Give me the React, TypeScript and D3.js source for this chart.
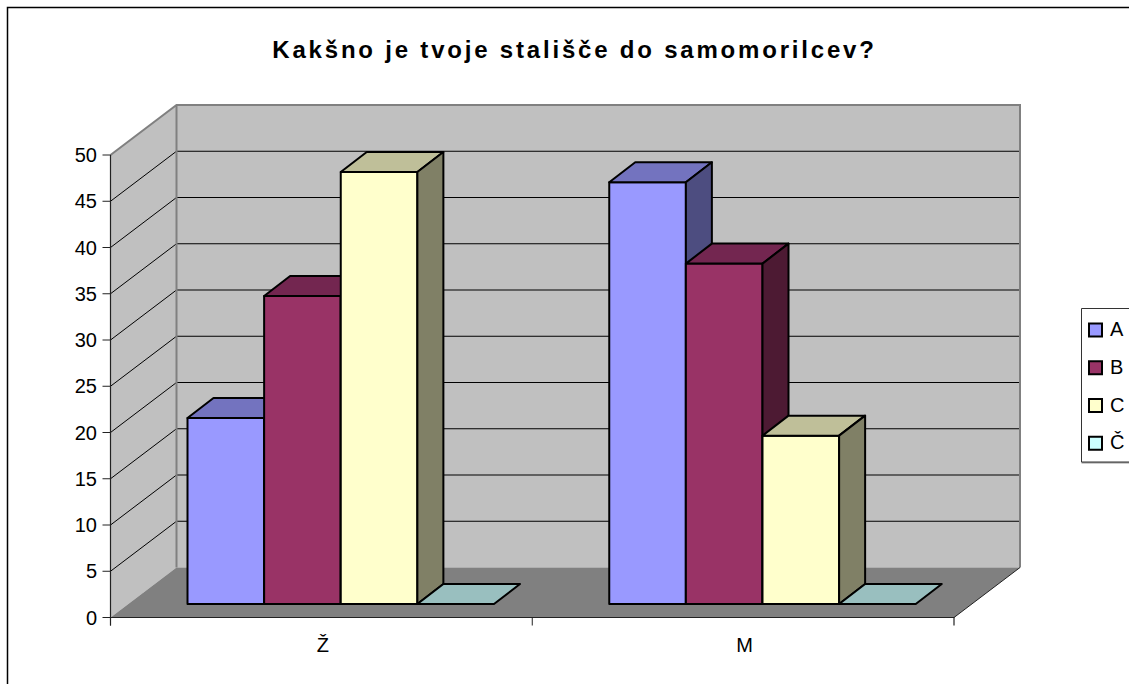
import React from "react";
import * as d3 from "d3";

const categories = ["Ž", "M"];
const seriesNames = ["A", "B", "C", "Č"];
const valuesA = [20.1, 45.6];
const valuesB = [33.3, 36.8];
const valuesC = [46.7, 18.2];
const valuesCh = [0, 0];
const yTicks = [0, 5, 10, 15, 20, 25, 30, 35, 40, 45, 50];

const seriesValues = [valuesA, valuesB, valuesC, valuesCh];
const frontColors = ["#9999FF", "#993366", "#FFFFCC", "#CCFFFF"];
const topColors = ["#7373BF", "#732650", "#BFBF99", "#99BFBF"];
const sideColors = ["#4D4D80", "#4D1A33", "#808066", "#668080"];

// wall depth and bar depth of the fake 3d projection
const depthX = 66;
const depthY = 50;
const barDepthX = 26;
const barDepthY = 20;
const barInsetY = 13.5;

const y = d3.scaleLinear().domain([0, 50]).range([617.5, 155]);
const x0 = d3.scaleBand().domain(categories).range([110.5, 954]);
const x1 = d3.scaleBand().domain(seriesNames).range([77, 383.5]);

const poly = (pts: number[][]) => d3.line()(pts as [number, number][]) + "Z";

export default function App() {
  const left = 110.5;
  const right = 954;
  const bottom = y(0);
  const top = y(50);

  return (
    <svg
      width={1129}
      height={684}
      style={{ position: "absolute", left: 0, top: 0, fontFamily: "Liberation Sans" }}
    >
      <rect width={1129} height={684} fill="#fff" />
      <path d="M7.5,684V7.5H1129" fill="none" stroke="#000" strokeWidth={1.5} />

      <text
        x={574.5}
        y={58}
        textAnchor="middle"
        fontSize={24}
        fontWeight="bold"
        letterSpacing={2.8}
      >
        Kakšno je tvoje stališče do samomorilcev?
      </text>

      {/* walls */}
      <path
        d={poly([[left, bottom], [left, top], [left + depthX, top - depthY], [left + depthX, bottom - depthY]])}
        fill="#C0C0C0"
      />
      <rect x={left + depthX} y={top - depthY} width={right - left} height={bottom - top} fill="#C0C0C0" />
      <path
        d={poly([[left, bottom], [left + depthX, bottom - depthY], [right + depthX, bottom - depthY], [right, bottom]])}
        fill="#808080"
      />

      {yTicks.slice(1, -1).map((t) => (
        <path
          key={t}
          d={`M${left},${y(t)}L${left + depthX},${y(t) - depthY}H${right + depthX}`}
          fill="none"
          stroke="#000"
          strokeWidth={1}
        />
      ))}
      <path
        d={`M${left},${top}L${left + depthX},${top - depthY}H${right + depthX}V${bottom - depthY}M${left + depthX},${top - depthY}V${bottom - depthY}`}
        fill="none"
        stroke="#808080"
        strokeWidth={2}
      />
      <path
        d={`M${right},${bottom}L${right + depthX},${bottom - depthY}`}
        fill="none"
        stroke="#222"
        strokeWidth={1}
      />

      {/* bars */}
      {categories.map((cat, c) =>
        seriesNames.map((name, s) => {
          const xa = x0(cat)! + x1(name)!;
          const xb = xa + x1.bandwidth();
          const yb = bottom - barInsetY;
          const yt = y(seriesValues[s][c]) - barInsetY;
          return (
            <g key={cat + name} stroke="#000" strokeWidth={2} strokeLinejoin="round">
              {yb - yt > 0 && <rect x={xa} y={yt} width={xb - xa} height={yb - yt} fill={frontColors[s]} />}
              <path
                d={poly([[xa, yt], [xa + barDepthX, yt - barDepthY], [xb + barDepthX, yt - barDepthY], [xb, yt]])}
                fill={topColors[s]}
              />
              {yb - yt > 0 && (
                <path
                  d={poly([[xb, yt], [xb + barDepthX, yt - barDepthY], [xb + barDepthX, yb - barDepthY], [xb, yb]])}
                  fill={sideColors[s]}
                />
              )}
            </g>
          );
        })
      )}

      {/* axes */}
      <path d={`M${left},${top}V${bottom + 8}M${left},${bottom}H${right}V${bottom + 8}`} fill="none" stroke="#222" strokeWidth={1.2} />
      {yTicks.map((t) => (
        <g key={t}>
          <line x1={left - 8} x2={left} y1={y(t)} y2={y(t)} stroke="#222" strokeWidth={1} />
          <text x={97} y={y(t) + 7} textAnchor="end" fontSize={20}>
            {t}
          </text>
        </g>
      ))}
      {categories.map((cat) => (
        <g key={cat}>
          <line x1={x0(cat)!} x2={x0(cat)!} y1={bottom} y2={bottom + 8} stroke="#222" strokeWidth={1} />
          <text x={x0(cat)! + x0.bandwidth() / 2 + 1.5} y={652} textAnchor="middle" fontSize={20}>
            {cat}
          </text>
        </g>
      ))}

      {/* legend */}
      <path d="M1129,462.5H1081.5" fill="none" stroke="#999" strokeWidth={2} />
      <path d="M1129,308.5H1081.5V462H1129" fill="#fff" stroke="#333" strokeWidth={1} />
      {seriesNames.map((name, s) => {
        const ly = d3.scaleBand().domain(seriesNames).range([311, 462])(name)! + 18.5;
        return (
          <g key={name}>
            <rect x={1089} y={ly - 6} width={13} height={13} fill={frontColors[s]} stroke="#000" strokeWidth={2} />
            <text x={1110} y={ly + 6.5} fontSize={20}>
              {name}
            </text>
          </g>
        );
      })}
    </svg>
  );
}
